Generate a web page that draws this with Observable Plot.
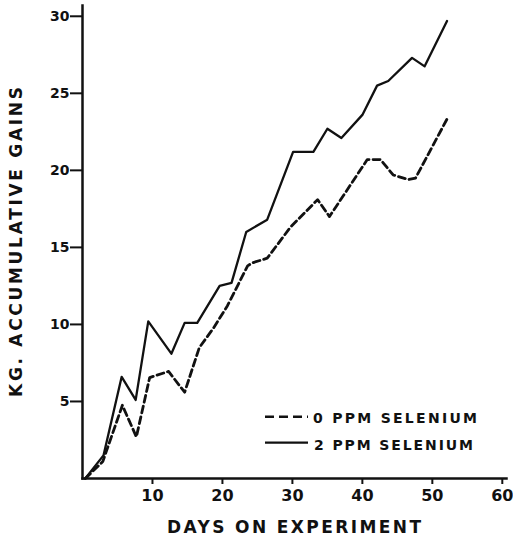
<!DOCTYPE html>
<html>
<head>
<meta charset="utf-8">
<script src="https://cdn.jsdelivr.net/npm/d3@7"></script>
<script src="https://cdn.jsdelivr.net/npm/@observablehq/plot@0.6"></script>
<style>
  html, body { margin: 0; padding: 0; background: #fff; }
  #chart { position: relative; width: 513px; height: 539px; }
</style>
</head>
<body>
<div id="chart"></div>
<script>
// 2 PPM selenium (solid line)
const days2 = [0.4, 3.0, 5.6, 7.6, 9.4, 12.7, 14.6, 16.4, 19.6, 21.3, 23.4, 26.4, 30.1, 33.0, 35.0, 37.0, 40.0, 42.1, 43.7, 47.1, 48.9, 52.1];
const gain2 = [0.0, 1.5, 6.6, 5.1, 10.2, 8.1, 10.1, 10.1, 12.5, 12.7, 16.0, 16.8, 21.2, 21.2, 22.7, 22.1, 23.6, 25.5, 25.8, 27.3, 26.75, 29.7];
// 0 PPM selenium (dashed line)
const days0 = [0.4, 2.9, 5.7, 7.7, 9.6, 12.3, 14.6, 16.7, 18.7, 20.7, 23.6, 24.3, 26.4, 29.7, 33.6, 35.3, 40.7, 42.6, 44.4, 46.6, 47.6, 52.3];
const gain0 = [0.0, 1.1, 4.75, 2.7, 6.55, 6.95, 5.6, 8.5, 9.75, 11.2, 13.8, 14.0, 14.3, 16.3, 18.1, 17.0, 20.7, 20.7, 19.7, 19.4, 19.5, 23.5];

const xTicks = [10, 20, 30, 40, 50, 60];
const yTicks = [5, 10, 15, 20, 25, 30];
const seriesLabels = ["0 PPM SELENIUM", "2 PPM SELENIUM"];
const xTitle = "DAYS ON EXPERIMENT";
const yTitle = "KG. ACCUMULATIVE GAINS";

const solid = days2.map((d, i) => ({day: d, gain: gain2[i]}));
const dashed = days0.map((d, i) => ({day: d, gain: gain0[i]}));
const font = "DejaVu Sans, sans-serif";
const ink = "#111";

const plot = Plot.plot({
  width: 513,
  height: 539,
  marginLeft: 82,
  marginRight: 7,
  marginTop: 5,
  marginBottom: 61,
  style: {fontFamily: font, color: ink},
  x: {domain: [0, 60.6]},
  y: {domain: [0, 30.7]},
  marks: [
    Plot.frame({anchor: "left", stroke: ink, strokeWidth: 2.5}),
    Plot.frame({anchor: "bottom", stroke: ink, strokeWidth: 2.5}),
    Plot.axisY({ticks: yTicks, tickSize: 12, tickPadding: 1, tickFormat: d => String(d), label: null,
      fontSize: 14, fontWeight: "bold", strokeWidth: 2, stroke: ink, fill: ink}),
    Plot.axisX({ticks: xTicks, tickSize: 6, tickPadding: 5, tickFormat: d => String(d), label: null,
      fontSize: 16, fontWeight: "bold", strokeWidth: 2, stroke: ink, fill: ink}),
    Plot.line(dashed, {x: "day", y: "gain", stroke: ink, strokeWidth: 2.8, strokeDasharray: "7,4"}),
    Plot.line(solid, {x: "day", y: "gain", stroke: ink, strokeWidth: 2.3})
  ]
});
document.getElementById("chart").appendChild(plot);

const svg = d3.select(plot);
// axis titles
svg.append("text")
  .attr("x", 294).attr("y", 533)
  .attr("text-anchor", "middle")
  .attr("textLength", 254).attr("lengthAdjust", "spacing")
  .style("font-family", font).style("font-size", "17px").style("font-weight", "bold").style("fill", ink)
  .text(xTitle);
svg.append("text")
  .attr("transform", "translate(22,242) rotate(-90)")
  .attr("text-anchor", "middle")
  .attr("textLength", 310).attr("lengthAdjust", "spacing")
  .style("font-family", font).style("font-size", "17px").style("font-weight", "bold").style("fill", ink)
  .text(yTitle);

// legend
const legend = svg.append("g");
const rows = [
  {label: seriesLabels[0], dash: "9,5", sw: 2.6, ly: 416.7, ty: 423.3, len: 164, tx: 313},
  {label: seriesLabels[1], dash: null, sw: 2.3, ly: 442.7, ty: 450, len: 159, tx: 314}
];
rows.forEach(r => {
  const ln = legend.append("line")
    .attr("x1", 265).attr("x2", 308).attr("y1", r.ly).attr("y2", r.ly)
    .attr("stroke", ink).attr("stroke-width", r.sw);
  if (r.dash) ln.attr("stroke-dasharray", r.dash);
  legend.append("text")
    .attr("x", r.tx).attr("y", r.ty)
    .attr("text-anchor", "start")
    .attr("textLength", r.len).attr("lengthAdjust", "spacing")
    .style("font-family", font).style("font-size", "14px").style("font-weight", "bold").style("fill", ink)
    .text(r.label);
});
</script>
</body>
</html>
